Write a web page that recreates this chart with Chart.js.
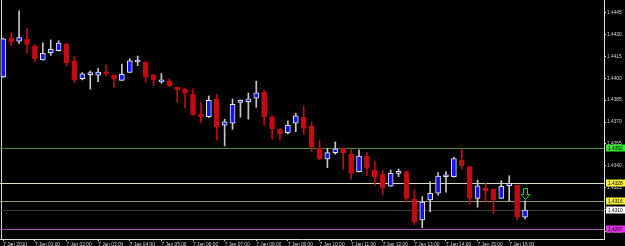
<!DOCTYPE html>
<html>
<head>
<meta charset="utf-8">
<script src="https://cdn.jsdelivr.net/npm/chart.js@4.4.1/dist/chart.umd.min.js"></script>
<style>
html, body { margin: 0; padding: 0; background: #000; }
#wrap { width: 625px; height: 246px; }
</style>
</head>
<body>
<div id="wrap"><canvas id="myChart"></canvas></div>
<script>
const ctx = document.getElementById("myChart").getContext("2d");

// EURUSD-style M15 candles, 7 Jan 2010 00:00 .. 16:30
const open = [
  1.44009, 1.44277, 1.44254, 1.44268, 1.44222, 1.44126, 1.44176, 1.44189, 1.44233, 1.44119,
  1.43997, 1.44025, 1.44021, 1.44043, 1.44021, 1.43986, 1.44041, 1.44112, 1.44112, 1.44023,
  1.43975, 1.43980, 1.43938, 1.43927, 1.43890, 1.43753, 1.43737, 1.43858, 1.43678, 1.43692,
  1.43835, 1.43840, 1.43863, 1.43904, 1.43733, 1.43650, 1.43627, 1.43692, 1.43733, 1.43673,
  1.43520, 1.43447, 1.43490, 1.43519, 1.43479, 1.43360, 1.43467, 1.43371, 1.43342, 1.43260,
  1.43348, 1.43360, 1.43171, 1.43029, 1.43166, 1.43212, 1.43325, 1.43325, 1.43440, 1.43394,
  1.43177, 1.43246, 1.43239, 1.43177, 1.43264, 1.43266, 1.43047
];
const high = [
  1.44275, 1.44311, 1.44462, 1.44343, 1.44229, 1.44244, 1.44263, 1.44258, 1.44240, 1.44148,
  1.44039, 1.44050, 1.44069, 1.44091, 1.44024, 1.44098, 1.44135, 1.44153, 1.44114, 1.44026,
  1.44032, 1.43997, 1.43942, 1.43932, 1.43927, 1.43838, 1.43879, 1.43890, 1.43719, 1.43858,
  1.43851, 1.43899, 1.43980, 1.43920, 1.43744, 1.43653, 1.43709, 1.43760, 1.43810, 1.43701,
  1.43577, 1.43520, 1.43563, 1.43522, 1.43513, 1.43509, 1.43490, 1.43428, 1.43371, 1.43371,
  1.43378, 1.43364, 1.43234, 1.43188, 1.43291, 1.43353, 1.43360, 1.43458, 1.43513, 1.43399,
  1.43303, 1.43280, 1.43242, 1.43298, 1.43332, 1.43268, 1.43159
];
const low = [
  1.44005, 1.44224, 1.44240, 1.44176, 1.44114, 1.44124, 1.44158, 1.44187, 1.44085, 1.43970,
  1.43989, 1.43925, 1.43977, 1.44016, 1.43938, 1.43984, 1.44039, 1.44087, 1.43975, 1.43949,
  1.43966, 1.43945, 1.43836, 1.43799, 1.43747, 1.43696, 1.43730, 1.43577, 1.43536, 1.43650,
  1.43733, 1.43719, 1.43801, 1.43678, 1.43586, 1.43577, 1.43618, 1.43634, 1.43618, 1.43500,
  1.43440, 1.43387, 1.43479, 1.43376, 1.43308, 1.43358, 1.43330, 1.43266, 1.43200, 1.43258,
  1.43325, 1.43150, 1.42994, 1.42976, 1.43085, 1.43198, 1.43220, 1.43323, 1.43378, 1.43138,
  1.43116, 1.43154, 1.43074, 1.43176, 1.43159, 1.43029, 1.43035
];
const close = [
  1.44270, 1.44251, 1.44279, 1.44233, 1.44135, 1.44172, 1.44199, 1.44242, 1.44107, 1.43989,
  1.44030, 1.44027, 1.44043, 1.44030, 1.43997, 1.44028, 1.44119, 1.44116, 1.44007, 1.43989,
  1.43989, 1.43947, 1.43920, 1.43899, 1.43749, 1.43737, 1.43849, 1.43668, 1.43701, 1.43822,
  1.43838, 1.43860, 1.43901, 1.43737, 1.43655, 1.43618, 1.43678, 1.43742, 1.43657, 1.43527,
  1.43447, 1.43490, 1.43517, 1.43490, 1.43349, 1.43467, 1.43383, 1.43325, 1.43246, 1.43349,
  1.43350, 1.43177, 1.43017, 1.43152, 1.43212, 1.43330, 1.43328, 1.43449, 1.43401, 1.43177,
  1.43262, 1.43227, 1.43166, 1.43260, 1.43280, 1.43051, 1.43097
];

const xTickLabels = [
  "7 Jan 2010", "7 Jan 01:00", "7 Jan 02:00", "7 Jan 03:00", "7 Jan 04:00", "7 Jan 05:00",
  "7 Jan 06:00", "7 Jan 07:00", "7 Jan 08:00", "7 Jan 09:00", "7 Jan 10:00", "7 Jan 11:00",
  "7 Jan 12:00", "7 Jan 13:00", "7 Jan 14:00", "7 Jan 15:00", "7 Jan 16:00"
];
const yTicks = [1.4295, 1.4310, 1.4325, 1.4340, 1.4355, 1.4370, 1.4385, 1.4400, 1.4415, 1.4430, 1.4445];

// horizontal levels drawn on the chart, with their price labels on the axis
const levelPrices = [1.4352, 1.4328, 1.4316, 1.4310, 1.4297];
const levelLineColors = ["#3f8f3f", "#dcdcc4", "#96966a", "#3c3c3c", "#a848b0"];
const levelBoxColors = ["#30e830", "#f4f43c", "#f4f43c", "#ffffff", "#e830e8"];

const separatorAt = 0;   // day separator on the first bar
const arrowAt = 66;      // sell arrow above the last bar
const arrowPrice = 1.43245;

const BULL = "#1414f0", BEAR = "#c00c12";
const isBull = open.map((o, i) => close[i] >= o);

const overlay = {
  id: "overlay",
  beforeDatasetsDraw(chart) {
    const { ctx, chartArea: a, scales: { x, y } } = chart;
    ctx.save();
    ctx.lineWidth = 1;
    const sx = Math.round(x.getPixelForValue(separatorAt)) - 1.5;
    ctx.strokeStyle = "#d8d8d8";
    ctx.beginPath(); ctx.moveTo(sx, a.top); ctx.lineTo(sx, a.bottom); ctx.stroke();
    levelPrices.forEach((p, i) => {
      const py = Math.round(y.getPixelForValue(p)) + 0.5;
      ctx.strokeStyle = levelLineColors[i];
      ctx.beginPath(); ctx.moveTo(a.left, py); ctx.lineTo(a.right, py); ctx.stroke();
    });
    ctx.restore();
  },
  afterDatasetsDraw(chart) {
    const { ctx, scales: { x, y } } = chart;
    const ax = Math.round(x.getPixelForValue(arrowAt)) + 0.5;
    const ay = Math.round(y.getPixelForValue(arrowPrice)) + 0.5;
    ctx.save();
    ctx.strokeStyle = "#28d028";
    ctx.lineWidth = 1;
    ctx.beginPath();
    ctx.moveTo(ax - 2, ay); ctx.lineTo(ax + 2, ay); ctx.lineTo(ax + 2, ay + 6);
    ctx.lineTo(ax + 4.5, ay + 6); ctx.lineTo(ax, ay + 11); ctx.lineTo(ax - 4.5, ay + 6);
    ctx.lineTo(ax - 2, ay + 6); ctx.closePath();
    ctx.stroke();
    ctx.restore();
  },
  afterDraw(chart) {
    const { ctx, chartArea: a, scales: { y } } = chart;
    ctx.save();
    ctx.font = "4.8px 'Liberation Sans'";
    ctx.textBaseline = "middle";
    levelPrices.forEach((p, i) => {
      const py = Math.round(y.getPixelForValue(p));
      ctx.fillStyle = levelBoxColors[i];
      ctx.fillRect(a.right + 2, py - 3.5, 19, 7);
      ctx.fillStyle = "#000";
      ctx.fillText(p.toFixed(4), a.right + 4, py + 0.5);
    });
    ctx.restore();
  }
};

const config = {
  type: "bar",
  data: {
    datasets: [
      {
        label: "body",
        data: open.map((o, i) => ({ x: i, y: [o, close[i]] })),
        backgroundColor: isBull.map(b => b ? BULL : BEAR),
        borderColor: isBull.map(b => b ? "#e8e8f0" : BEAR),
        borderWidth: 1,
        borderSkipped: false,
        barThickness: 5,
        minBarLength: 2,
        grouped: false,
        order: 1
      },
      {
        label: "wick",
        data: open.map((o, i) => ({ x: i, y: [low[i], high[i]] })),
        backgroundColor: isBull.map(b => b ? "#c8c8c8" : BEAR),
        barThickness: 1,
        grouped: false,
        order: 2
      }
    ]
  },
  options: {
    responsive: true,
    maintainAspectRatio: false,
    animation: false,
    devicePixelRatio: 1,
    layout: { padding: 0 },
    plugins: { legend: { display: false }, tooltip: { enabled: false } },
    scales: {
      x: {
        type: "linear",
        min: -0.417,
        max: 75.99,
        offset: false,
        grid: { drawOnChartArea: false, drawTicks: true, tickLength: 2, color: "#d0d0d0", offset: false },
        border: { color: "#e0e0e0" },
        ticks: {
          autoSkip: false,
          maxRotation: 0,
          align: "start",
          padding: 1,
          color: "#d8d8d8",
          font: { family: "Liberation Sans", size: 4.8 },
          callback: (v, i) => xTickLabels[i]
        },
        afterBuildTicks: s => { s.ticks = xTickLabels.map((_, i) => ({ value: i * 4 })); },
        afterFit: s => { s.height = 7; s.paddingLeft = 0; s.paddingRight = 0; }
      },
      y: {
        position: "right",
        min: 1.42898,
        max: 1.44537,
        grid: { drawOnChartArea: false, drawTicks: true, tickLength: 2, color: "#d0d0d0" },
        border: { color: "#e0e0e0" },
        ticks: {
          autoSkip: false,
          padding: 1,
          color: "#d8d8d8",
          font: { family: "Liberation Sans", size: 4.8 },
          callback: v => v.toFixed(4)
        },
        afterBuildTicks: s => { s.ticks = yTicks.map(v => ({ value: v })); },
        afterFit: s => { s.width = 21; s.paddingTop = 0; s.paddingBottom = 0; }
      }
    }
  },
  plugins: [overlay]
};

const myChart = new Chart(ctx, config);
</script>
</body>
</html>
